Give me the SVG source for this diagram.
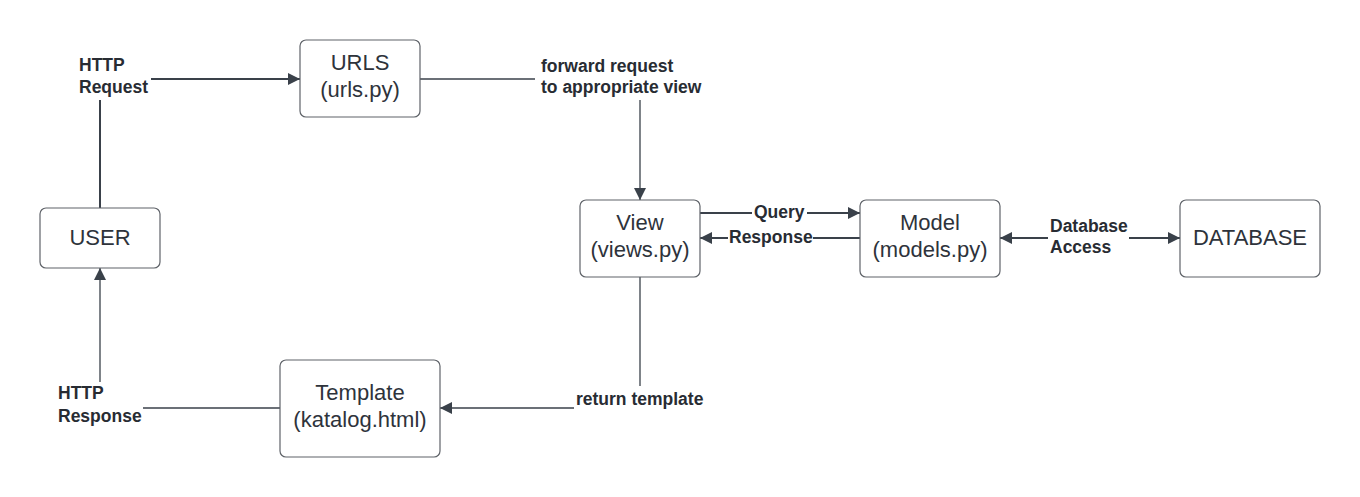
<svg xmlns="http://www.w3.org/2000/svg" width="1360" height="497" viewBox="0 0 1360 497">
<style>
.box{fill:#fff;stroke:#5f6369;stroke-width:1.2}
.nt{font-family:"Liberation Sans",Arial,sans-serif;font-size:22px;fill:#2e333b;text-anchor:middle}
.lb{font-family:"Liberation Sans",Arial,sans-serif;font-size:17.5px;font-weight:bold;fill:#282c33}
.ln{fill:none;stroke:#3a414a;stroke-width:2}
.lt{fill:none;stroke:#3a414a;stroke-width:1.3}
</style>
<defs>
<marker id="ah" viewBox="0 0 12 12" refX="12" refY="6" markerWidth="12" markerHeight="12" markerUnits="userSpaceOnUse" orient="auto">
<path d="M0,0 L12,6 L0,12 Z" fill="#3a414a"/>
</marker>
</defs>
<rect width="1360" height="497" fill="#fff"/>
<g id="connectors">
<path class="ln" d="M100,208 V100"/>
<path class="ln" d="M151,79 H300" marker-end="url(#ah)"/>
<path class="lt" d="M420,79 H535"/>
<path class="lt" d="M640,100 V200" marker-end="url(#ah)"/>
<path class="ln" d="M700,213 H752"/>
<path class="ln" d="M807,213 H860" marker-end="url(#ah)"/>
<path class="ln" d="M728,238 H700" marker-end="url(#ah)"/>
<path class="ln" d="M813,238 H860"/>
<path class="ln" d="M1048,238 H1000" marker-end="url(#ah)"/>
<path class="ln" d="M1129,238 H1180" marker-end="url(#ah)"/>
<path class="lt" d="M640,277 V386"/>
<path class="lt" d="M574,408 H440" marker-end="url(#ah)"/>
<path class="lt" d="M280,408 H143"/>
<path class="lt" d="M100,382 V268" marker-end="url(#ah)"/>
<text class="lb" x="79" y="71">HTTP</text>
<text class="lb" x="79" y="93">Request</text>
<text class="lb" x="541" y="72">forward request</text>
<text class="lb" x="541" y="93">to appropriate view</text>
<text class="lb" x="754" y="218">Query</text>
<text class="lb" x="729" y="243">Response</text>
<text class="lb" x="1050" y="232">Database</text>
<text class="lb" x="1050" y="253">Access</text>
<text class="lb" x="576" y="405">return template</text>
<text class="lb" x="58" y="399">HTTP</text>
<text class="lb" x="58" y="422">Response</text>
</g>
<g id="user">
<rect class="box" x="40" y="208" width="120" height="60" rx="6"/>
<text class="nt" x="100" y="245">USER</text>
</g>
<g id="urls">
<rect class="box" x="300" y="40" width="120" height="77" rx="6"/>
<text class="nt" x="360" y="70">URLS</text>
<text class="nt" x="360" y="97">(urls.py)</text>
</g>
<g id="view">
<rect class="box" x="580" y="200" width="120" height="77" rx="6"/>
<text class="nt" x="640" y="230">View</text>
<text class="nt" x="640" y="257">(views.py)</text>
</g>
<g id="model">
<rect class="box" x="860" y="200" width="140" height="77" rx="6"/>
<text class="nt" x="930" y="230">Model</text>
<text class="nt" x="930" y="257">(models.py)</text>
</g>
<g id="database">
<rect class="box" x="1180" y="200" width="140" height="77" rx="6"/>
<text class="nt" x="1250" y="245">DATABASE</text>
</g>
<g id="template">
<rect class="box" x="280" y="360" width="160" height="97" rx="6"/>
<text class="nt" x="360" y="400">Template</text>
<text class="nt" x="360" y="427">(katalog.html)</text>
</g>
</svg>
